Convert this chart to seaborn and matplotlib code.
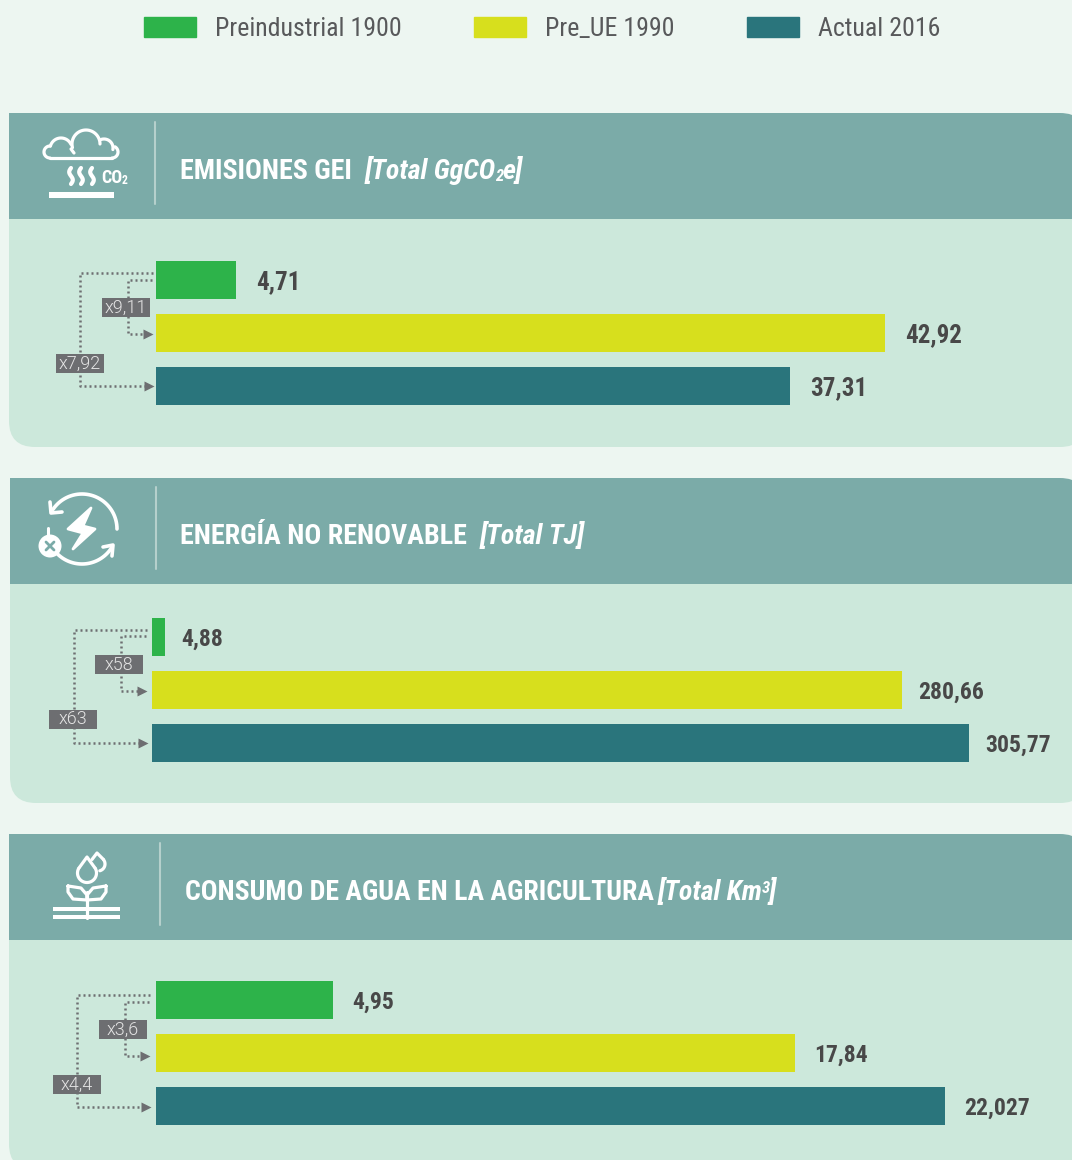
import numpy as np
import pandas as pd
import matplotlib
matplotlib.use("Agg")
import matplotlib.pyplot as plt
import seaborn as sns
from matplotlib.patches import FancyBboxPatch, Rectangle, Polygon, Circle, Patch

# --- data ---
series = ["Preindustrial 1900", "Pre_UE 1990", "Actual 2016"]
emisiones = [4.71, 42.92, 37.31]
energia = [4.88, 280.66, 305.77]
agua = [4.95, 17.84, 22.027]
emisiones_labels = ["4,71", "42,92", "37,31"]
energia_labels = ["4,88", "280,66", "305,77"]
agua_labels = ["4,95", "17,84", "22,027"]
emisiones_mult = ["x9,11", "x7,92"]
energia_mult = ["x58", "x63"]
agua_mult = ["x3,6", "x4,4"]

GREEN, YELLOW, TEAL = "#2DB34A", "#D7DF1D", "#2A757C"
palette = dict(zip(series, [GREEN, YELLOW, TEAL]))
BG, HEADER, BODY = "#EDF6F1", "#7BABA8", "#CCE8DB"
GREY, DARK = "#6D6E71", "#484848"
NARROW = "Roboto Condensed"

W, H = 1072, 1160
RIGHT = 1086
sns.set_theme(style="white")
plt.rcParams["font.family"] = ["Roboto", "DejaVu Sans"]

fig = plt.figure(figsize=(W / 100, H / 100), dpi=100, facecolor=BG)
bg = fig.add_axes([0, 0, 1, 1], zorder=0)
bg.set_xlim(0, W)
bg.set_ylim(H, 0)
bg.axis("off")
renderer = fig.canvas.get_renderer()


def panel(x, top, head_bottom, bottom, divider_x):
    r = 26
    bg.add_patch(FancyBboxPatch((x + r, top + 40 + r), RIGHT - x - 2 * r, bottom - top - 40 - 2 * r,
                                boxstyle=f"round,pad={r}", fc=BODY, ec="none"))
    bg.add_patch(FancyBboxPatch((x + r, top + r), RIGHT - x - 2 * r, head_bottom - top - 2 * r,
                                boxstyle=f"round,pad={r}", fc=HEADER, ec="none"))
    # only the top right corner of the header is round
    bg.add_patch(Rectangle((x, top), 300, head_bottom - top, fc=HEADER, ec="none"))
    bg.add_patch(Rectangle((x, top + 40), 1200, head_bottom - top - 40, fc=HEADER, ec="none"))
    bg.plot([divider_x, divider_x], [top + 9, top + 91], color="#B5D0CC", lw=1.5)


def title(x, baseline, main, x2, parts, size=20.2):
    bg.text(x, baseline, main, color="white", fontsize=size, fontweight="bold",
            family=NARROW, va="baseline")
    # italic part is chained piece by piece because of the small 2 / 3
    cur = x2
    for txt, small in parts:
        t = bg.text(cur, baseline + (2 if small == "sub" else -7 if small == "sup" else 0), txt,
                    color="white", fontsize=12 if small else 20.2, fontweight="bold",
                    fontstyle="italic", family=NARROW, va="baseline")
        cur = t.get_window_extent(renderer).x1 - 1


def multiplier(text, x, y_top, y_bottom, box_y, x_end, tip, box_shift=0):
    dots = dict(color=GREY, lw=1.8, ls=(0, (0.8, 1.2)))
    bg.plot([x_end, x, x, tip - 5], [y_top, y_top, y_bottom, y_bottom], **dots)
    bg.plot([tip - 3], [y_bottom], marker=">", ms=7, color=GREY, mec="none")
    bx = x + box_shift
    bg.add_patch(Rectangle((bx - 24, box_y), 48, 19, fc=GREY, ec="none", zorder=3))
    bg.text(bx, box_y + 9.5, text, color="#E4E4E4", fontsize=13, fontweight=300,
            ha="center", va="center", zorder=4)


def bars(values, labels, left, width, centre, pad, size):
    rows = pd.DataFrame({"serie": series, "valor": values})
    step = 53
    ax = fig.add_axes([left / W, 1 - (centre + 1.5 * step) / H, width / W, 3 * step / H], zorder=2)
    sns.barplot(data=rows, x="valor", y="serie", hue="serie", order=series, hue_order=series,
                palette=palette, dodge=False, width=0.716, saturation=1, legend=False,
                linewidth=0, ax=ax)
    ax.set_xlim(0, max(values))
    ax.axis("off")
    for cont, lab in zip(ax.containers, labels):
        texts = ax.bar_label(cont, labels=[lab], padding=pad * 0.72, color=DARK, fontsize=size,
                             fontweight="bold", family=NARROW)
        for t in texts:
            t.set_va("center_baseline")
    return ax


def arc(cx, cy, r, a0, a1, lw=2.3):
    a = np.radians(np.linspace(a0, a1, 40))
    bg.plot(cx + r * np.cos(a), cy - r * np.sin(a), color="white", lw=lw, solid_capstyle="round")


def poly(pts, lw=2.3):
    p = np.array(pts)
    bg.plot(p[:, 0], p[:, 1], color="white", lw=lw, solid_capstyle="round", solid_joinstyle="round")


def icon_cloud():
    arc(50, 152, 6, 90, 270)
    arc(61, 149, 11, 25, 165)
    arc(86, 144, 14, 0, 195)
    arc(104, 148, 9, -10, 110)
    arc(112, 152, 6, -90, 60)
    poly([(50, 158), (112, 158)])
    poly([(71, 149), (74, 153)])
    t = np.linspace(0, 1, 30)
    for x0 in (71, 81, 92):
        bg.plot(x0 + 1.8 * np.sin(t * 2 * np.pi), 184 - 16 * t, color="white", lw=3)
    bg.text(101, 178, "CO", color="white", fontsize=13, fontweight="bold", family=NARROW, va="center")
    bg.text(122, 181, "2", color="white", fontsize=8.5, fontweight="bold", family=NARROW, va="center")
    bg.add_patch(Rectangle((49, 192), 65, 6, fc="white", ec="none"))


def icon_energy():
    arc(82, 529, 35, 0, 146, lw=2.6)
    arc(82, 529, 35, 226, 330, lw=2.6)
    poly([(50, 502), (51, 513), (62, 512)], lw=2.6)
    poly([(103, 547), (113, 545), (112, 556)], lw=2.6)
    bg.add_patch(Polygon([(91, 508), (68, 529), (83, 533), (73, 549), (95, 529), (83, 526)],
                         fc="white", ec="white", lw=2, joinstyle="round"))
    bg.add_patch(Circle((50, 546), 11.5, fc="white", ec="none"))
    poly([(48, 528), (48, 537)], lw=2.2)
    bg.plot([46, 54], [542, 550], color=HEADER, lw=2)
    bg.plot([46, 54], [550, 542], color=HEADER, lw=2)


def icon_water():
    arc(87, 873, 9.5, 150, 390)
    poly([(79, 868), (87, 857), (95, 868)])
    arc(98, 864, 7, -75, 40)
    poly([(103.5, 859.5), (97, 853), (92, 859.5)])
    poly([(68, 886), (68, 892), (73, 899), (87, 900), (87, 895), (81, 888), (68, 886)])
    poly([(106, 886), (106, 892), (101, 899), (87, 900), (87, 895), (93, 888), (106, 886)])
    poly([(87, 892), (87, 918)])
    bg.add_patch(Rectangle((53, 907), 67, 4, fc="white", ec="none"))
    bg.add_patch(Rectangle((53, 915), 67, 4, fc="white", ec="none"))


panel(9, 113, 219, 447, 155)
panel(10, 478, 584, 803, 156)
panel(9, 834, 940, 1170, 160)

title(180, 179, "EMISIONES GEI", 365, [("[Total GgCO", None), ("2", "sub"), ("e]", None)])
title(180, 544, "ENERGÍA NO RENOVABLE", 480, [("[Total TJ]", None)])
title(185, 900, "CONSUMO DE AGUA EN LA AGRICULTURA", 658,
      [("[Total Km", None), ("3", "sup"), ("]", None)], size=20)

icon_cloud()
icon_energy()
icon_water()

bars(emisiones, emisiones_labels, 156, 729, 333, 20, 18)
bars(energia, energia_labels, 152, 817, 690, 16, 17)
bars(agua, agua_labels, 156, 789, 1053, 19, 17)

multiplier(emisiones_mult[0], 128, 280, 334, 298, 152, 151, -2)
multiplier(emisiones_mult[1], 80, 273, 386, 354, 153, 152)
multiplier(energia_mult[0], 121, 636, 691, 655, 146, 145, -2)
multiplier(energia_mult[1], 74, 630, 743, 710, 147, 146, -1)
multiplier(agua_mult[0], 125, 1002, 1056, 1020, 149, 148, -2)
multiplier(agua_mult[1], 77, 995, 1107, 1075, 150, 149)

handles = [Patch(color=palette[s]) for s in series]
fig.legend(handles, series, loc="upper left", bbox_to_anchor=(144 / W, 1 - 17 / H), ncols=3,
           frameon=False, prop=dict(family=NARROW, size=18.6), labelcolor="#58595B",
           handlelength=2.0, handleheight=0.78, handletextpad=0.73, columnspacing=2.82,
           borderpad=0, borderaxespad=0)

fig.savefig("out.png", dpi=100, facecolor=BG)
